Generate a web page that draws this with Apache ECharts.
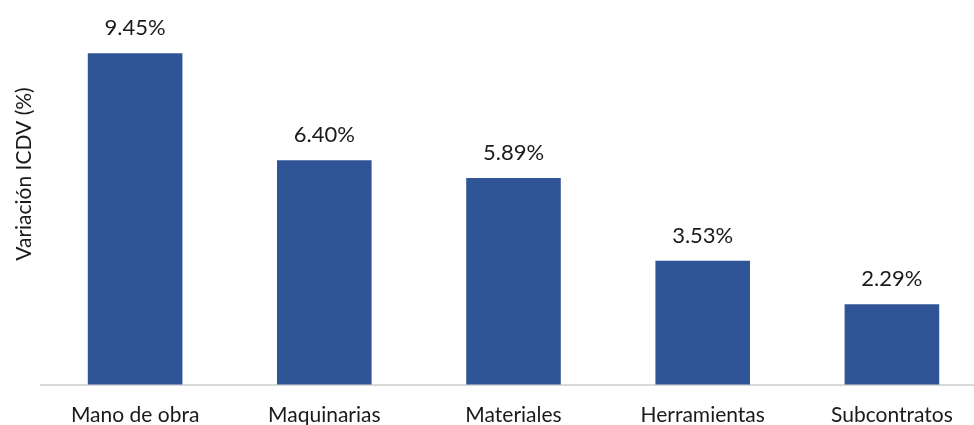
<!DOCTYPE html>
<html>
<head>
<meta charset="utf-8">
<script src="https://cdn.jsdelivr.net/npm/echarts@6/dist/echarts.min.js"></script>
<style>
html,body{margin:0;padding:0;background:#fff;}
#chart{width:974px;height:425px;}
</style>
</head>
<body>
<div id="chart"></div>
<script>
const categories = ['Mano de obra', 'Maquinarias', 'Materiales', 'Herramientas', 'Subcontratos'];
const values = [9.45, 6.40, 5.89, 3.53, 2.29];
const yAxisTitle = 'Variación ICDV (%)';

const FONT = 'Lato';
const chart = echarts.init(document.getElementById('chart'));
chart.setOption({
  animation: false,
  backgroundColor: '#ffffff',
  grid: { left: 40.5, width: 946, top: 34, bottom: 40.5, outerBoundsMode: 'none', containLabel: false },
  xAxis: {
    type: 'category',
    data: categories,
    axisLine: { show: true, lineStyle: { color: '#d9d9d9', width: 2 } },
    axisTick: { show: false },
    axisLabel: { color: '#1a1a1a', fontSize: 21, fontFamily: FONT, margin: 20 }
  },
  yAxis: {
    type: 'value',
    min: 0,
    max: 10,
    axisLine: { show: false },
    axisTick: { show: false },
    axisLabel: { show: false },
    splitLine: { show: false }
  },
  graphic: [{
    type: 'text',
    x: 24,
    y: 174,
    rotation: Math.PI / 2,
    style: {
      text: yAxisTitle,
      fill: '#1a1a1a',
      font: '21px ' + FONT,
      textAlign: 'center',
      textVerticalAlign: 'middle'
    }
  }],
  series: [{
    type: 'bar',
    data: values,
    barCategoryGap: '50%',
    itemStyle: { color: '#2f5597' },
    label: {
      show: true,
      position: 'top',
      distance: 14,
      color: '#1a1a1a',
      fontSize: 22,
      fontFamily: FONT,
      formatter: p => p.value.toFixed(2) + '%'
    }
  }]
});
</script>
</body>
</html>
